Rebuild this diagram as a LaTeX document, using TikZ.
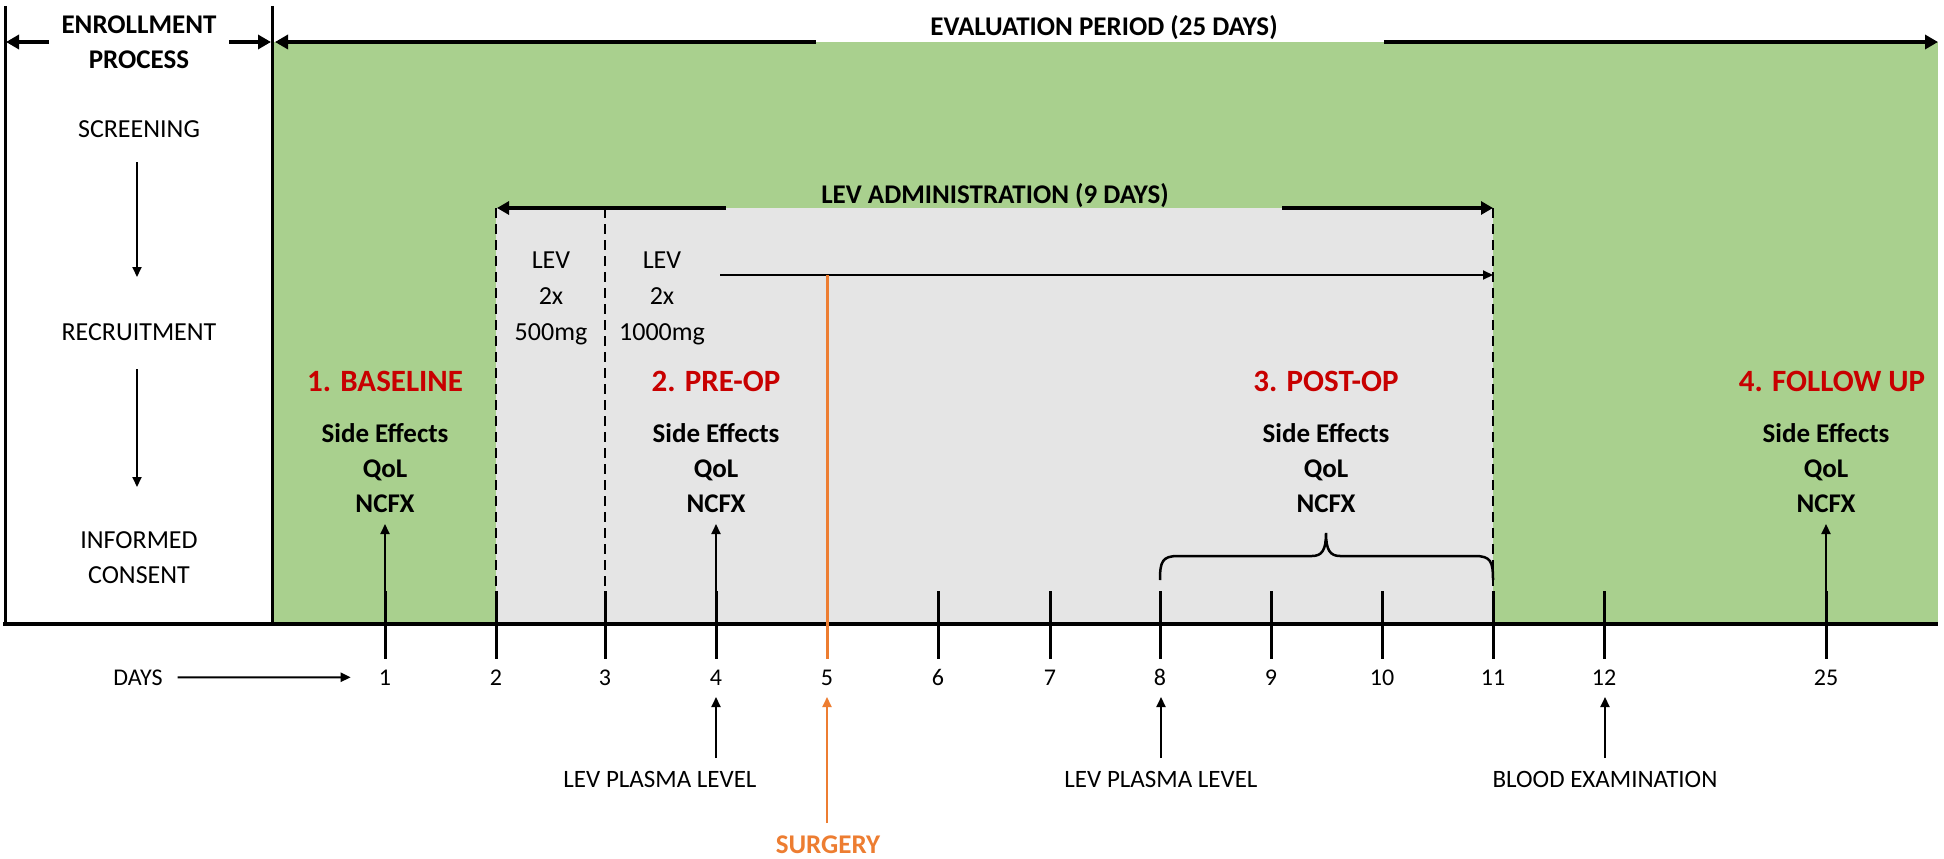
\documentclass[tikz,border=0pt]{standalone}
\usepackage{fontspec}
\setmainfont{Carlito}
\usetikzlibrary{arrows.meta}
\definecolor{evalgreen}{RGB}{169,208,142}
\definecolor{levgray}{RGB}{229,229,229}
\definecolor{stagered}{RGB}{200,0,0}
\definecolor{surgorange}{RGB}{237,125,49}
\begin{document}
\begin{tikzpicture}[x=1pt,y=-1pt,
  reg/.style={font=\fontsize{26}{30}\selectfont, inner sep=0pt, anchor=base},
  small/.style={font=\fontsize{24}{28}\selectfont, inner sep=0pt, anchor=base},
  bld/.style={font=\fontsize{27}{32}\selectfont\bfseries, inner sep=0pt, anchor=base},
  stage/.style={font=\fontsize{31}{36}\selectfont\bfseries, text=stagered, inner sep=0pt, anchor=base},
  frame/.style={line width=3pt},
  axisline/.style={line width=4pt},
  tickline/.style={line width=3pt},
  dashline/.style={line width=2pt, dash pattern=on 10pt off 6pt},
  bigarrow/.style={line width=4.5pt, -{Triangle[length=13pt,width=14pt]}},
  medarrow/.style={line width=4pt, -{Triangle[length=12pt,width=13pt]}},
  thinarrow/.style={line width=2pt, -{Triangle[length=10pt,width=9pt]}},
]
\useasboundingbox (0,0) rectangle (1944,859);
\fill[white] (0,0) rectangle (1944,859);
% regions
\fill[evalgreen] (273,42) rectangle (1938,624);
\fill[levgray] (496,208) rectangle (1493,624);

% enrollment frame
\draw[frame] (5,6) -- (5,626);
\draw[frame] (272,6) -- (272,624);

% headings
\node[bld] (enr1) at (139,34) {ENROLLMENT};
\node[bld] (enr2) at (139,69) {PROCESS};
\coordinate (enrLs) at (49,42);
\coordinate (enrLe) at (6,42);
\coordinate (enrRs) at (229,42);
\coordinate (enrRe) at (271,42);
\draw[bigarrow] (enrLs) -- (enrLe);
\draw[bigarrow] (enrRs) -- (enrRe);

\node[bld] (eval) at (1104,36) {EVALUATION PERIOD (25 DAYS)};
\coordinate (evLs) at (816,42);
\coordinate (evLe) at (275,42);
\coordinate (evRs) at (1384,42);
\coordinate (evRe) at (1938,42);
\draw[bigarrow] (evLs) -- (evLe);
\draw[bigarrow] (evRs) -- (evRe);

\node[bld] (levadm) at (995,203) {LEV ADMINISTRATION (9 DAYS)};
\coordinate (laLs) at (726,208);
\coordinate (laLe) at (497,208);
\coordinate (laRs) at (1282,208);
\coordinate (laRe) at (1493,208);
\draw[medarrow] (laLs) -- (laLe);
\draw[medarrow] (laRs) -- (laRe);

% enrollment steps
\node[reg] (scr) at (139,137) {SCREENING};
\node[reg] (rec) at (139,340) {RECRUITMENT};
\node[reg] (inf1) at (139,548) {INFORMED};
\node[reg] (inf2) at (139,583) {CONSENT};
\coordinate (s1a) at (137,162);
\coordinate (s1b) at (137,277);
\coordinate (s2a) at (137,369);
\coordinate (s2b) at (137,487);
\draw[thinarrow] (s1a) -- (s1b);
\draw[thinarrow] (s2a) -- (s2b);

% dashed dose boundaries
\draw[dashline] (496,208) -- (496,591);
\draw[dashline] (605,208) -- (605,591);
\draw[dashline] (1493,208) -- (1493,591);

% dose texts
\node[reg] (lev1a) at (551,268) {LEV};
\node[reg] (lev1b) at (551,304) {2x};
\node[reg] (lev1c) at (551,340) {500mg};
\node[reg] (lev2a) at (662,268) {LEV};
\node[reg] (lev2b) at (662,304) {2x};
\node[reg] (lev2c) at (662,340) {1000mg};
\coordinate (doseS) at (720,275);
\coordinate (doseE) at (1493,275);
\draw[thinarrow] (doseS) -- (doseE);

% axis
\draw[axisline] (3,624) -- (1938,624);

% ticks and day numbers
\foreach \d/\x in {1/385,2/496,3/605,4/716,6/938,7/1050,8/1160,9/1271,10/1382,11/1493,12/1604,25/1826}{
  \coordinate (top\d) at (\x,591);
  \coordinate (bot\d) at (\x,659);
  \draw[tickline] (top\d) -- (bot\d);
}
\foreach \d/\x in {1/385,2/496,3/605,4/716,5/827,6/938,7/1050,8/1160,9/1271,10/1382,11/1493,12/1604,25/1826}{
  \node[small] (day\d) at (\x,685) {\d};
}

% surgery line
\coordinate (surgTop) at (827,275);
\coordinate (bot5) at (827,659);
\draw[tickline, surgorange] (surgTop) -- (bot5);

% stage labels
\foreach \n/\x/\t in {1/385/1. BASELINE,2/716/2. PRE-OP,3/1326/3. POST-OP,4/1832/4. FOLLOW UP}{
  \node[stage] (st\n) at (\x,391) {\t};
}
\foreach \n/\x in {1/385,2/716,3/1326,4/1826}{
  \node[bld] (se\n) at (\x,442) {Side Effects};
  \node[bld] (qol\n) at (\x,477) {QoL};
  \node[bld] (nc\n) at (\x,512) {NCFX};
}
\coordinate (up1) at (385,524);
\coordinate (up4) at (716,524);
\coordinate (up25) at (1826,524);
\draw[thinarrow] (top1) -- (up1);
\draw[thinarrow] (top4) -- (up4);
\draw[thinarrow] (top25) -- (up25);

% brace for post-op
\coordinate (brL) at (1160,580);
\coordinate (brR) at (1493,580);
\coordinate (brT) at (1326,533);
\draw[line width=2.5pt] (brL) .. controls (1160,562) and (1162,556) .. (1178,556)
  -- (1312,556) .. controls (1322,556) and (1326,550) .. (brT)
  .. controls (1326,550) and (1330,556) .. (1340,556)
  -- (1475,556) .. controls (1491,556) and (1493,562) .. (brR);

% bottom annotations
\node[small] (days) at (138,685) {DAYS};
\draw[thinarrow, shorten <=15pt, shorten >=28pt] (days.east) -- (day1.west);

\node[reg, font=\fontsize{25}{30}\selectfont] (pl1) at (660,787) {LEV PLASMA LEVEL};
\node[reg, font=\fontsize{25}{30}\selectfont] (pl2) at (1161,787) {LEV PLASMA LEVEL};
\node[reg, font=\fontsize{25}{30}\selectfont] (blood) at (1605,787) {BLOOD EXAMINATION};
\node[bld, text=surgorange] (surg) at (828,853) {SURGERY};

\coordinate (a4s) at (716,758);  \coordinate (a4e) at (716,697);
\coordinate (a8s) at (1161,758); \coordinate (a8e) at (1161,697);
\coordinate (a12s) at (1605,758); \coordinate (a12e) at (1605,697);
\coordinate (a5s) at (827,823);  \coordinate (a5e) at (827,697);
\draw[thinarrow] (a4s) -- (a4e);
\draw[thinarrow] (a8s) -- (a8e);
\draw[thinarrow] (a12s) -- (a12e);
\draw[thinarrow, surgorange] (a5s) -- (a5e);
\end{tikzpicture}
\end{document}
